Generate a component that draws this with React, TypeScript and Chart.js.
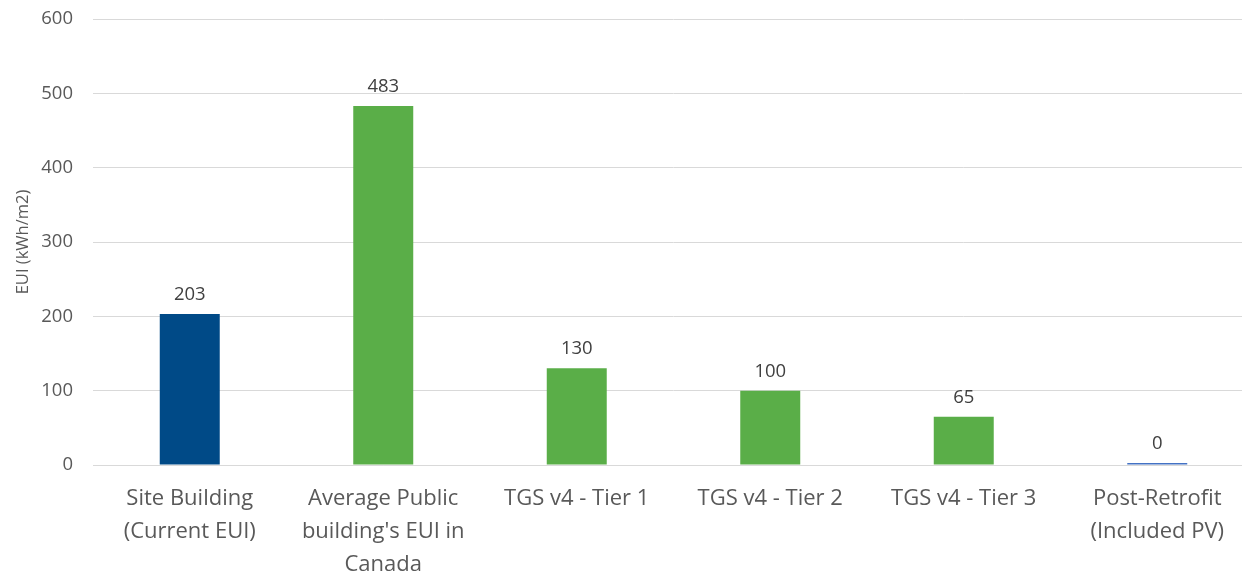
import React, { useEffect, useRef } from "react";
import { Chart, registerables } from "chart.js";

Chart.register(...registerables);

const categories: string[][] = [
  ["Site Building", "(Current EUI)"],
  ["Average Public", "building's EUI in", "Canada"],
  ["TGS v4 - Tier 1"],
  ["TGS v4 - Tier 2"],
  ["TGS v4 - Tier 3"],
  ["Post-Retrofit", "(Included PV)"],
];
const values: number[] = [203, 483, 130, 100, 65, 0];
const barColors: string[] = ["#004A87", "#5AAE48", "#5AAE48", "#5AAE48", "#5AAE48", "#4472C4"];
const yTicks: number[] = [0, 100, 200, 300, 400, 500, 600];
const yTitle = "EUI (kWh/m2)";

const FONT = "'Open Sans', Lato, 'DejaVu Sans', sans-serif";

const dataLabels = {
  id: "dataLabels",
  afterDatasetsDraw(chart: any) {
    const ctx = chart.ctx;
    const meta = chart.getDatasetMeta(0);
    ctx.save();
    ctx.font = `18.5px ${FONT}`;
    ctx.fillStyle = "#404040";
    ctx.textAlign = "center";
    ctx.textBaseline = "bottom";
    meta.data.forEach((bar: any, i: number) => {
      ctx.fillText(String(values[i]), bar.x, bar.y - 10);
    });
    ctx.restore();
  },
};

export default function App() {
  const ref = useRef<HTMLCanvasElement>(null);
  useEffect(() => {
    if (!ref.current) return;
    const chart = new Chart(ref.current, {
      type: "bar",
      data: {
        labels: categories,
        datasets: [
          {
            data: values,
            backgroundColor: barColors,
            categoryPercentage: 1,
            barPercentage: 0.31,
            minBarLength: 2,
          },
        ],
      },
      options: {
        animation: false,
        responsive: false,
        maintainAspectRatio: false,
        layout: { padding: { top: 19, right: 2, left: 0, bottom: 0 } },
        plugins: { legend: { display: false }, tooltip: { enabled: false } },
        scales: {
          x: {
            grid: { display: false, drawTicks: false },
            border: { display: true, color: "#d9d9d9" },
            ticks: {
              color: "#595959",
              font: { family: FONT, size: 22, lineHeight: 1.5 },
              padding: 17,
              maxRotation: 0,
              autoSkip: false,
            },
            afterFit: (s: any) => {
              s.height = 108;
              s.paddingLeft = 0;
              s.paddingRight = 0;
            },
          },
          y: {
            min: 0,
            max: 600,
            afterBuildTicks: (s: any) => {
              s.ticks = yTicks.map((v) => ({ value: v }));
            },
            grid: { color: "#d9d9d9", drawTicks: false },
            border: { display: false },
            ticks: {
              color: "#595959",
              font: { family: FONT, size: 18.5 },
              padding: 20,
            },
            title: {
              display: true,
              text: yTitle,
              color: "#595959",
              font: { family: FONT, size: 16.5 },
              padding: { top: 13, bottom: 0 },
            },
            afterFit: (s: any) => {
              s.width = 93;
              s.paddingTop = 0;
              s.paddingBottom = 0;
            },
          },
        },
      },
      plugins: [dataLabels],
    });
    return () => chart.destroy();
  }, []);
  return (
    <div
      style={{
        position: "fixed",
        left: 0,
        top: 0,
        width: 1242,
        height: 573,
        overflow: "hidden",
        background: "#fff",
      }}
    >
      <canvas ref={ref} width={1256} height={573} style={{ display: "block" }} />
    </div>
  );
}
